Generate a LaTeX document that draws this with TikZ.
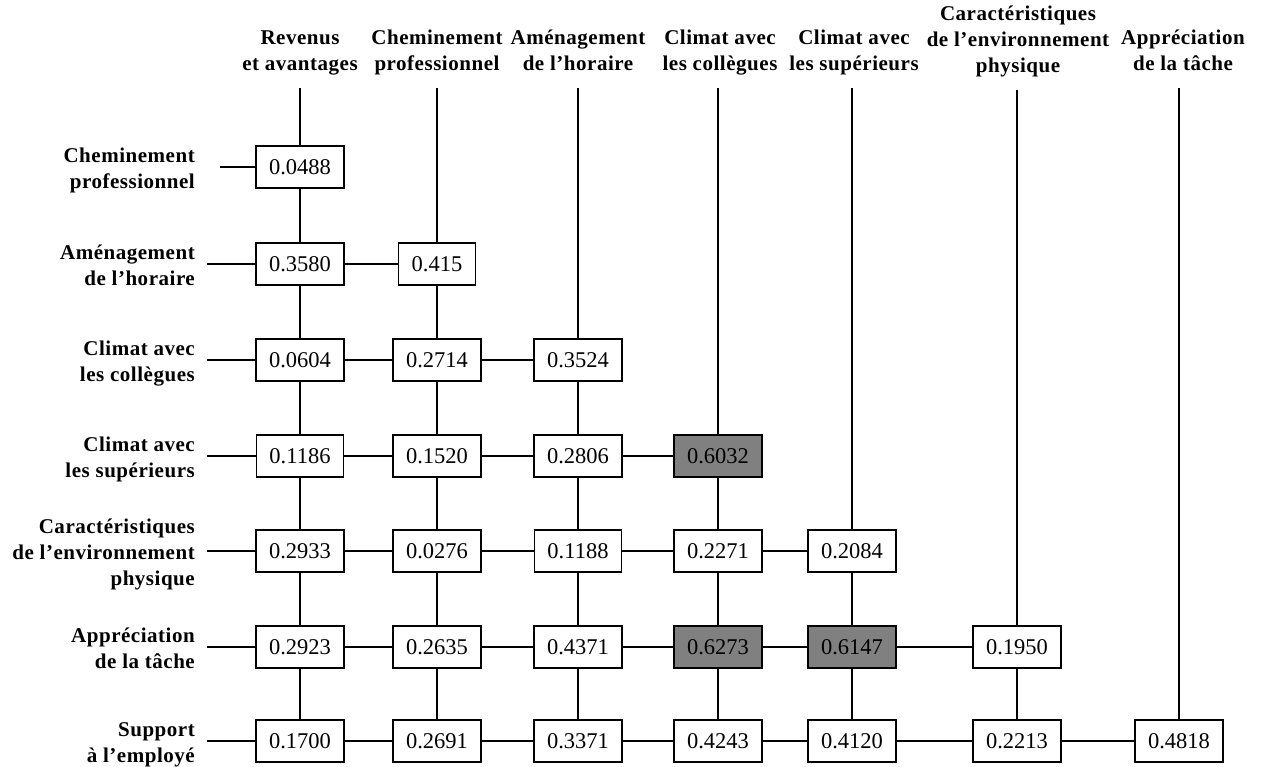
\documentclass[tikz,border=0pt]{standalone}
\usepackage{fontspec}
\setmainfont{Liberation Serif}
\newfontfamily\labfont[LetterSpace=2.5]{Liberation Serif}
\newcommand\fl{\rule{0pt}{18pt}}
\begin{document}
\begin{tikzpicture}[x=1pt,y=-1pt,
  lab/.style={font=\labfont\fontsize{21}{26}\selectfont\bfseries, align=center, inner sep=0pt, anchor=north},
  rlab/.style={lab, align=right, anchor=north east},
  val/.style={draw, line width=1.3pt, fill=white, font=\fontsize{22.5}{26}\selectfont,
              minimum height=42pt, inner xsep=13pt, inner ysep=0pt},
  hi/.style={val, fill=gray},
  conn/.style={line width=1.9pt}]
\useasboundingbox (0,0) rectangle (1265,767);

% column headers (first baseline at 45, or 21 for three lines)
\node[lab] (h1) at (300,26) {\fl Revenus\\et avantages};
\node[lab] (h2) at (437,26) {\fl Cheminement\\professionnel};
\node[lab] (h3) at (578,26) {\fl Aménagement\\de l’horaire};
\node[lab] (h4) at (720,26) {\fl Climat avec\\les collègues};
\node[lab] (h5) at (854,26) {\fl Climat avec\\les supérieurs};
\node[lab] (h6) at (1018,2) {\fl Caractéristiques\\de l’environnement\\physique};
\node[lab] (h7) at (1183,26) {\fl Appréciation\\de la tâche};

% top ends of the column lines
\coordinate (t1) at (300,88);
\coordinate (t2) at (437,88);
\coordinate (t3) at (578,88);
\coordinate (t4) at (718,88);
\coordinate (t5) at (852,88);
\coordinate (t6) at (1017,90);
\coordinate (t7) at (1179,88);

% row labels (first baseline = row centre - 5)
\node[rlab] (r1) at (195,144) {\fl Cheminement\\professionnel};
\node[rlab] (r2) at (195,241) {\fl Aménagement\\de l’horaire};
\node[rlab] (r3) at (195,337) {\fl Climat avec\\les collègues};
\node[rlab] (r4) at (195,433) {\fl Climat avec\\les supérieurs};
\node[rlab] (r5) at (195,515) {\fl Caractéristiques\\de l’environnement\\physique};
\node[rlab] (r6) at (195,624) {\fl Appréciation\\de la tâche};
\node[rlab] (r7) at (195,718) {\fl Support\\à l’employé};

% left ends of the row lines
\coordinate (l1) at (220,167);
\coordinate (l2) at (207,264);
\coordinate (l3) at (207,360);
\coordinate (l4) at (207,456);
\coordinate (l5) at (207,551);
\coordinate (l6) at (207,647);
\coordinate (l7) at (207,741);

% values
\node[val] (b11) at (300,167) {0.0488};

\node[val] (b21) at (300,264) {0.3580};
\node[val] (b22) at (437,264) {0.415};

\node[val] (b31) at (300,360) {0.0604};
\node[val] (b32) at (437,360) {0.2714};
\node[val] (b33) at (578,360) {0.3524};

\node[val] (b41) at (300,456) {0.1186};
\node[val] (b42) at (437,456) {0.1520};
\node[val] (b43) at (578,456) {0.2806};
\node[hi]  (b44) at (718,456) {0.6032};

\node[val] (b51) at (300,551) {0.2933};
\node[val] (b52) at (437,551) {0.0276};
\node[val] (b53) at (578,551) {0.1188};
\node[val] (b54) at (718,551) {0.2271};
\node[val] (b55) at (852,551) {0.2084};

\node[val] (b61) at (300,647) {0.2923};
\node[val] (b62) at (437,647) {0.2635};
\node[val] (b63) at (578,647) {0.4371};
\node[hi]  (b64) at (718,647) {0.6273};
\node[hi]  (b65) at (852,647) {0.6147};
\node[val] (b66) at (1017,647) {0.1950};

\node[val] (b71) at (300,741) {0.1700};
\node[val] (b72) at (437,741) {0.2691};
\node[val] (b73) at (578,741) {0.3371};
\node[val] (b74) at (718,741) {0.4243};
\node[val] (b75) at (852,741) {0.4120};
\node[val] (b76) at (1017,741) {0.2213};
\node[val] (b77) at (1179,741) {0.4818};

% vertical connectors
\foreach \j in {1,...,7}{
  \draw[conn] (t\j) -- (b\j\j);
}
\foreach \j in {1,...,6}{
  \foreach \i in {\j,...,6}{
    \pgfmathtruncatemacro\k{\i+1}
    \draw[conn] (b\i\j) -- (b\k\j);
  }
}

% horizontal connectors
\foreach \i in {1,...,7}{
  \draw[conn] (l\i) -- (b\i1);
}
\foreach \i in {2,...,7}{
  \pgfmathtruncatemacro\m{\i-1}
  \foreach \j in {1,...,\m}{
    \pgfmathtruncatemacro\k{\j+1}
    \draw[conn] (b\i\j) -- (b\i\k);
  }
}
\end{tikzpicture}
\end{document}
